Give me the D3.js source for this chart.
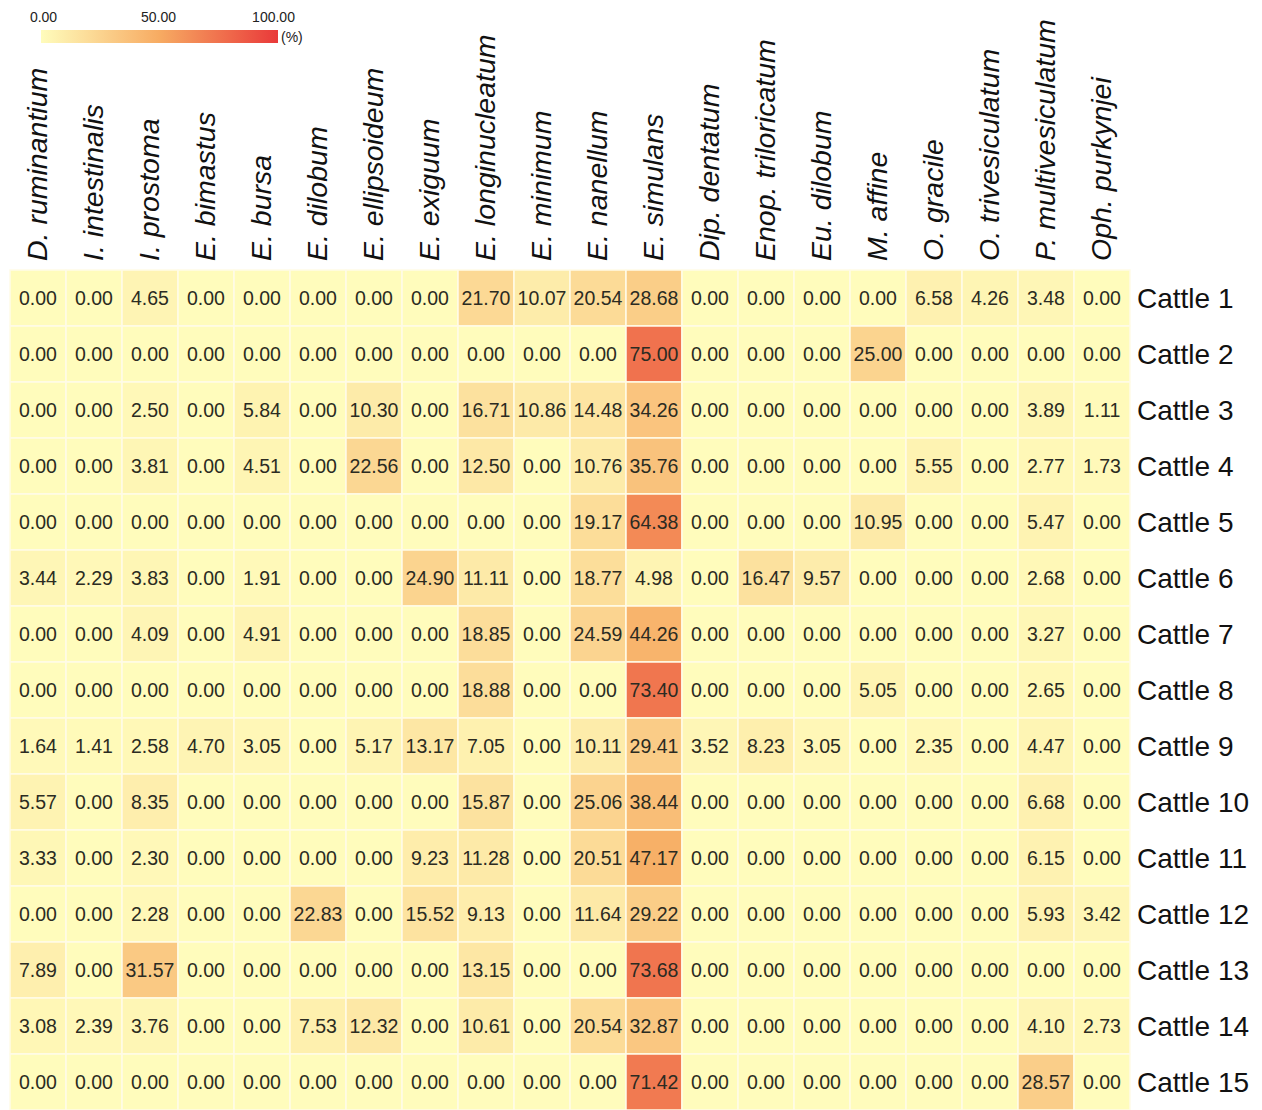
<!DOCTYPE html>
<html lang="en">
<head>
<meta charset="utf-8">
<title>Heatmap</title>
<script src="https://cdn.jsdelivr.net/npm/d3@7"></script>
<style>
  body { margin: 0; background: #fff; }
  text { font-family: "Liberation Sans", Arial, sans-serif; }
</style>
</head>
<body>
<script>
var species = ["D. ruminantium", "I. intestinalis", "I. prostoma", "E. bimastus", "E. bursa",
    "E. dilobum", "E. ellipsoideum", "E. exiguum", "E. longinucleatum", "E. minimum",
    "E. nanellum", "E. simulans", "Dip. dentatum", "Enop. triloricatum", "Eu. dilobum",
    "M. affine", "O. gracile", "O. trivesiculatum", "P. multivesiculatum", "Oph. purkynjei"];

var cattle = ["Cattle 1", "Cattle 2", "Cattle 3", "Cattle 4", "Cattle 5", "Cattle 6", "Cattle 7",
    "Cattle 8", "Cattle 9", "Cattle 10", "Cattle 11", "Cattle 12", "Cattle 13", "Cattle 14", "Cattle 15"];

// one row per cattle, one value per species (%)
var values = [
    [0, 0, 4.65, 0, 0, 0, 0, 0, 21.70, 10.07, 20.54, 28.68, 0, 0, 0, 0, 6.58, 4.26, 3.48, 0],
    [0, 0, 0, 0, 0, 0, 0, 0, 0, 0, 0, 75.00, 0, 0, 0, 25.00, 0, 0, 0, 0],
    [0, 0, 2.50, 0, 5.84, 0, 10.30, 0, 16.71, 10.86, 14.48, 34.26, 0, 0, 0, 0, 0, 0, 3.89, 1.11],
    [0, 0, 3.81, 0, 4.51, 0, 22.56, 0, 12.50, 0, 10.76, 35.76, 0, 0, 0, 0, 5.55, 0, 2.77, 1.73],
    [0, 0, 0, 0, 0, 0, 0, 0, 0, 0, 19.17, 64.38, 0, 0, 0, 10.95, 0, 0, 5.47, 0],
    [3.44, 2.29, 3.83, 0, 1.91, 0, 0, 24.90, 11.11, 0, 18.77, 4.98, 0, 16.47, 9.57, 0, 0, 0, 2.68, 0],
    [0, 0, 4.09, 0, 4.91, 0, 0, 0, 18.85, 0, 24.59, 44.26, 0, 0, 0, 0, 0, 0, 3.27, 0],
    [0, 0, 0, 0, 0, 0, 0, 0, 18.88, 0, 0, 73.40, 0, 0, 0, 5.05, 0, 0, 2.65, 0],
    [1.64, 1.41, 2.58, 4.70, 3.05, 0, 5.17, 13.17, 7.05, 0, 10.11, 29.41, 3.52, 8.23, 3.05, 0, 2.35, 0, 4.47, 0],
    [5.57, 0, 8.35, 0, 0, 0, 0, 0, 15.87, 0, 25.06, 38.44, 0, 0, 0, 0, 0, 0, 6.68, 0],
    [3.33, 0, 2.30, 0, 0, 0, 0, 9.23, 11.28, 0, 20.51, 47.17, 0, 0, 0, 0, 0, 0, 6.15, 0],
    [0, 0, 2.28, 0, 0, 22.83, 0, 15.52, 9.13, 0, 11.64, 29.22, 0, 0, 0, 0, 0, 0, 5.93, 3.42],
    [7.89, 0, 31.57, 0, 0, 0, 0, 0, 13.15, 0, 0, 73.68, 0, 0, 0, 0, 0, 0, 0, 0],
    [3.08, 2.39, 3.76, 0, 0, 7.53, 12.32, 0, 10.61, 0, 20.54, 32.87, 0, 0, 0, 0, 0, 0, 4.10, 2.73],
    [0, 0, 0, 0, 0, 0, 0, 0, 0, 0, 0, 71.42, 0, 0, 0, 0, 0, 0, 28.57, 0]
];

var legendTicks = [0, 50, 100];

var w = 1262;
var h = 1110;

var cells = [];
values.forEach(function(row, i) {
    row.forEach(function(v, j) {
        cells.push({ cattle: cattle[i], species: species[j], value: v });
    });
});

var xScale = d3.scaleBand().domain(species).range([10, 1130]);
var yScale = d3.scaleBand().domain(cattle).range([270, 1110]);

var color = d3.scaleLinear()
    .domain([0, 50, 100])
    .range(["#fffcbc", "#f7ab62", "#e9393a"]);

var svg = d3.select("body")
    .append("svg")
    .attr("width", w)
    .attr("height", h);

// cells
svg.append("g")
    .selectAll("rect")
    .data(cells)
    .enter()
    .append("rect")
    .attr("x", function(d) { return xScale(d.species); })
    .attr("y", function(d) { return yScale(d.cattle); })
    .attr("width", xScale.bandwidth())
    .attr("height", yScale.bandwidth())
    .attr("fill", function(d) { return color(d.value); })
    .attr("stroke", "#fffbe8")
    .attr("stroke-width", 1.5);

svg.append("g")
    .selectAll("text")
    .data(cells)
    .enter()
    .append("text")
    .attr("x", function(d) { return xScale(d.species) + xScale.bandwidth() / 2; })
    .attr("y", function(d) { return yScale(d.cattle) + yScale.bandwidth() / 2; })
    .attr("text-anchor", "middle")
    .attr("dy", "0.36em")
    .attr("font-size", "19.5px")
    .attr("fill", "#2b2b22")
    .text(function(d) { return d3.format(".2f")(d.value); });

// species labels on top
svg.append("g")
    .selectAll("text")
    .data(species)
    .enter()
    .append("text")
    .attr("transform", function(d) {
        return "translate(" + (xScale(d) + xScale.bandwidth() / 2 + 9) + ",261) rotate(-90)";
    })
    .attr("font-size", "28.5px")
    .attr("font-style", "italic")
    .attr("fill", "#111")
    .text(function(d) { return d; });

// cattle labels on the right
svg.append("g")
    .selectAll("text")
    .data(cattle)
    .enter()
    .append("text")
    .attr("x", 1137)
    .attr("y", function(d) { return yScale(d) + yScale.bandwidth() / 2; })
    .attr("dy", "0.36em")
    .attr("font-size", "28px")
    .attr("fill", "#111")
    .text(function(d) { return d; });

// legend
var defs = svg.append("defs");
var grad = defs.append("linearGradient").attr("id", "legend-grad");
d3.range(0, 101, 10).forEach(function(t) {
    grad.append("stop")
        .attr("offset", t + "%")
        .attr("stop-color", color(t));
});

svg.append("rect")
    .attr("x", 41)
    .attr("y", 30)
    .attr("width", 237)
    .attr("height", 13)
    .attr("fill", "url(#legend-grad)");

var legendX = d3.scaleLinear().domain([0, 100]).range([43, 273]);

var legendAxis = svg.append("g")
    .attr("transform", "translate(0,24)")
    .call(d3.axisTop(legendX)
        .tickValues(legendTicks)
        .tickFormat(d3.format(".2f"))
        .tickSize(0)
        .tickPadding(2));
legendAxis.select(".domain").remove();
legendAxis.selectAll("text")
    .attr("font-family", "'Liberation Sans', Arial, sans-serif")
    .attr("font-size", "14px")
    .attr("fill", "#222");

svg.append("text")
    .attr("x", 281)
    .attr("y", 42)
    .attr("font-size", "14px")
    .attr("fill", "#222")
    .text("(%)");
</script>
</body>
</html>
